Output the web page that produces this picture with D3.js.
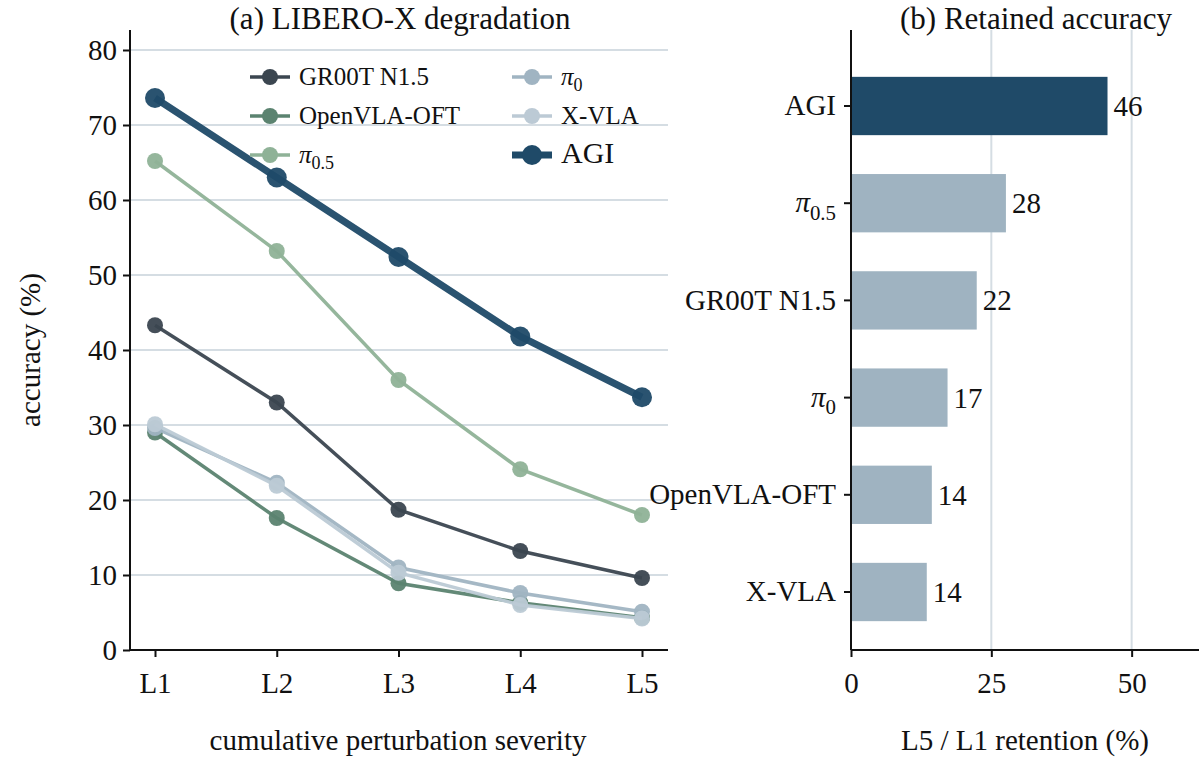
<!DOCTYPE html><html><head><meta charset="utf-8">
<script src="https://cdn.jsdelivr.net/npm/d3@7"></script>
<style>body{margin:0;background:#fff}svg text{font-family:"Liberation Serif","Times New Roman",serif !important;fill:#111}</style></head><body>
<svg id="c" width="1202" height="764"></svg>
<script>
const levels=["L1","L2","L3","L4","L5"];
const names=["GR00T N1.5","OpenVLA-OFT","π0.5","π0","X-VLA","AGI"];
const colors=["#3b4650","#5b8370","#8fb297","#a0b4c2","#bccad5","#1f4a68"];
const gr00t=[43.3,33,18.7,13.2,9.6];
const openvla=[29,17.6,8.9,6.3,4.3];
const pi05=[65.2,53.2,36,24.1,18];
const pi0=[29.6,22.3,11,7.6,5.1];
const xvla=[30.1,21.9,10.3,6,4.2];
const agi=[73.6,63,52.4,41.8,33.7];
const barNames=["AGI","π0.5","GR00T N1.5","π0","OpenVLA-OFT","X-VLA"];
const barVals=[45.7,27.6,22.4,17.2,14.4,13.5];
const series=[gr00t,openvla,pi05,pi0,xvla,agi];
const svg=d3.select("#c");
function label(sel,name,size){
  if(name.startsWith("π")){const sub=name.slice(1);
    sel.append("tspan").text("π").style("font-style","italic");
    sel.append("tspan").text(sub).attr("font-size",size*0.72).attr("dy",size*0.25);
  } else sel.text(name);
}
const FS=29;
// left
const x=d3.scalePoint().domain(levels).range([155,642]);
const y=d3.scaleLinear().domain([0,80]).range([650,50]);
svg.selectAll("line.g").data(y.ticks(8).slice(1)).join("line").attr("x1",130).attr("x2",668).attr("y1",d=>y(d)).attr("y2",d=>y(d)).attr("stroke","#d5dde3").attr("stroke-width",2);
const ya=svg.append("g").attr("transform","translate(130,0)").call(d3.axisLeft(y).ticks(8).tickSize(7).tickPadding(6));
const xa=svg.append("g").attr("transform","translate(0,650)").call(d3.axisBottom(x).tickSize(7).tickPadding(10));
ya.select(".domain").attr("d","M0,30V650");
xa.select(".domain").attr("d","M130,0H668");
[ya,xa].forEach(a=>{a.attr("font-size",FS);a.selectAll("text").attr("font-size",FS);a.selectAll("line,path").attr("stroke","#111").attr("stroke-width",2);});
xa.selectAll("text").attr("dy","0.9em");
const line=d3.line().x((d,i)=>x(levels[i])).y(d=>y(d));
series.forEach((s,k)=>{const big=k===5;
  svg.append("path").attr("d",line(s)).attr("fill","none").attr("stroke",colors[k]).attr("stroke-width",big?7:3.5).attr("opacity",0.95);
  svg.selectAll(null).data(s).join("circle").attr("cx",(d,i)=>x(levels[i])).attr("cy",d=>y(d)).attr("r",big?10:8).attr("fill",colors[k]).attr("opacity",0.95);
});
svg.append("text").attr("x",400).attr("y",29).attr("text-anchor","middle").attr("font-size",31).text("(a) LIBERO-X degradation");
svg.append("text").attr("transform","translate(40,350) rotate(-90)").attr("text-anchor","middle").attr("font-size",FS).text("accuracy (%)");
svg.append("text").attr("x",398).attr("y",750).attr("text-anchor","middle").attr("font-size",FS).text("cumulative perturbation severity");
// legend
const lg=[[0,250,77],[1,250,116],[2,250,155],[3,512,77],[4,512,116],[5,512,155]];
lg.forEach(([k,lx,ly])=>{const big=k===5;
  svg.append("line").attr("x1",lx).attr("x2",lx+40).attr("y1",ly).attr("y2",ly).attr("stroke",colors[k]).attr("stroke-width",big?7:3.5);
  svg.append("circle").attr("cx",lx+20).attr("cy",ly).attr("r",big?10:8).attr("fill",colors[k]);
  const t=svg.append("text").attr("x",lx+49).attr("y",ly+8).attr("font-size",big?30:25);label(t,names[k],big?30:25);
});
// right
const xb=d3.scaleLinear().domain([0,62]).range([851,1199]);
const yb=d3.scaleBand().domain(barNames).range([57.4,640.6]).paddingInner(0.4).paddingOuter(0.2);
svg.selectAll("line.gb").data([25,50]).join("line").attr("x1",d=>xb(d)).attr("x2",d=>xb(d)).attr("y1",30).attr("y2",650).attr("stroke","#d5dde3").attr("stroke-width",2);
svg.selectAll("rect.b").data(barVals).join("rect").attr("x",xb(0)).attr("y",(d,i)=>yb(barNames[i])).attr("height",yb.bandwidth()).attr("width",d=>xb(d)-xb(0)).attr("fill",(d,i)=>i===0?"#1f4a68":"#9fb3c1");
svg.selectAll("text.v").data(barVals).join("text").attr("x",d=>xb(d)+6).attr("y",(d,i)=>yb(barNames[i])+yb.bandwidth()/2+10).attr("font-size",FS).text(d=>Math.round(d));
const yba=svg.append("g").attr("transform","translate(851,0)").call(d3.axisLeft(yb).tickSize(7).tickPadding(8));
yba.selectAll("text").each(function(d){const t=d3.select(this).text("").attr("font-size",FS);label(t,d,FS);});
const xba=svg.append("g").attr("transform","translate(0,650)").call(d3.axisBottom(xb).tickValues([0,25,50]).tickSize(7).tickPadding(10));
xba.selectAll("text").attr("font-size",FS).attr("dy","0.9em");
yba.select(".domain").attr("d","M0,30V650");
xba.select(".domain").attr("d","M851,0H1199");
[yba,xba].forEach(a=>a.selectAll("line,path").attr("stroke","#111").attr("stroke-width",2));
svg.append("text").attr("x",1036).attr("y",29).attr("text-anchor","middle").attr("font-size",31).text("(b) Retained accuracy");
svg.append("text").attr("x",1025).attr("y",750).attr("text-anchor","middle").attr("font-size",FS).text("L5 / L1 retention (%)");
</script></body></html>
